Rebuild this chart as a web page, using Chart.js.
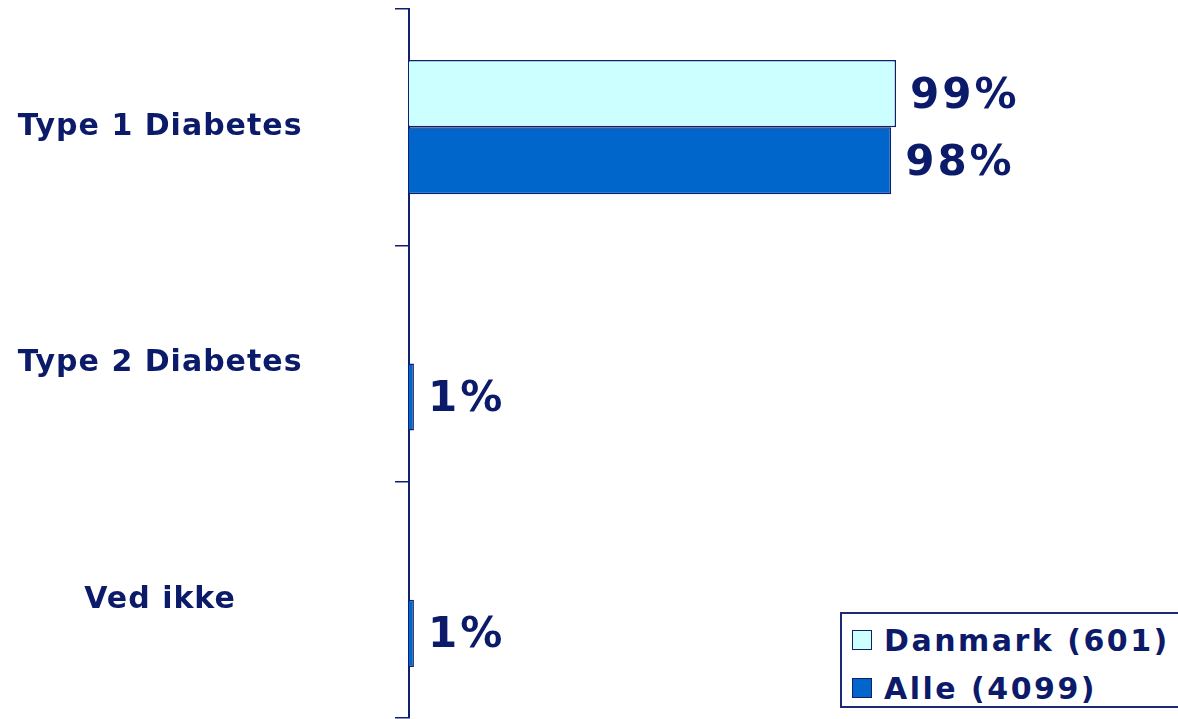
<!DOCTYPE html>
<html>
<head>
<meta charset="utf-8">
<script src="https://cdn.jsdelivr.net/npm/chart.js@4.4.1/dist/chart.umd.min.js"></script>
<style>
  html, body { margin: 0; padding: 0; background: #ffffff; overflow: hidden; }
  #wrap { position: relative; width: 1178px; height: 719px; }
  #legend {
    position: absolute; left: 840px; top: 612px; width: 360px; height: 96px;
    border: 2px solid #1a2a78; box-sizing: border-box; background: #fff;
    font-family: "DejaVu Sans", Verdana, sans-serif; font-weight: bold;
    font-size: 30px; letter-spacing: 2.5px; color: #0c1a6a;
  }
  .item { position: absolute; left: 10px; height: 40px; display: flex; align-items: center; }
  .sw { width: 18px; height: 18px; border: 1.5px solid #10206e; margin-right: 12px; flex: none; }
</style>
</head>
<body>
<div id="wrap">
  <canvas id="c" width="1178" height="719"></canvas>
  <div id="legend"></div>
</div>
<script>
const categories = ["Type 1 Diabetes", "Type 2 Diabetes", "Ved ikke"];
const seriesNames = ["Danmark (601)", "Alle (4099)"];
const danmarkValues = [99, 0, 0];
const alleValues = [98, 1, 1];
const seriesColors = ["#CCFFFF", "#0066CC"];

const navy = "#10206e";
const textColor = "#0c1a6a";

const valueLabels = {
  id: "valueLabels",
  afterDatasetsDraw(chart) {
    const ctx = chart.ctx;
    ctx.save();
    ctx.letterSpacing = "3px";
    ctx.font = "bold 42px 'DejaVu Sans'";
    ctx.fillStyle = textColor;
    ctx.textAlign = "left";
    ctx.textBaseline = "middle";
    chart.data.datasets.forEach((ds, di) => {
      const meta = chart.getDatasetMeta(di);
      meta.data.forEach((bar, i) => {
        const v = ds.data[i];
        if (!v) return;
        ctx.fillText(v + "%", bar.x + 14, bar.y + 3);
      });
    });
    ctx.restore();
  }
};

const tickSpacing = {
  id: "tickSpacing",
  beforeDraw(chart) { chart.ctx.letterSpacing = "1px"; },
  afterDraw(chart) { chart.ctx.letterSpacing = "0px"; }
};

new Chart(document.getElementById("c"), {
  type: "bar",
  data: {
    labels: categories,
    datasets: [
      { label: seriesNames[0], data: danmarkValues, backgroundColor: seriesColors[0],
        borderColor: navy, borderWidth: 1.5, borderSkipped: "start",
        categoryPercentage: 0.568, barPercentage: 1.0 },
      { label: seriesNames[1], data: alleValues, backgroundColor: seriesColors[1],
        borderColor: navy, borderWidth: 1.5, borderSkipped: "start",
        categoryPercentage: 0.568, barPercentage: 1.0 }
    ]
  },
  options: {
    indexAxis: "y",
    responsive: false,
    animation: false,
    devicePixelRatio: 1,
    layout: { padding: { top: 9, right: 31, bottom: 1, left: 0 } },
    plugins: { legend: { display: false }, tooltip: { enabled: false } },
    scales: {
      x: { display: false, min: 0, max: 150 },
      y: {
        afterFit(scale) {
          scale.width = 409;
          scale.paddingTop = 0;
          scale.paddingBottom = 0;
        },
        border: { display: true, color: navy, width: 2 },
        grid: { drawOnChartArea: false, drawTicks: true, tickLength: 14, color: navy, lineWidth: 1.5 },
        ticks: {
          crossAlign: "center", padding: 100, color: textColor,
          font: { family: "'DejaVu Sans'", weight: "bold", size: 30 }
        }
      }
    }
  },
  plugins: [tickSpacing, valueLabels]
});

const legend = document.getElementById("legend");
seriesNames.forEach((name, i) => {
  const it = document.createElement("div");
  it.className = "item";
  it.style.top = (i === 0 ? 6 : 54) + "px";
  const sw = document.createElement("span");
  sw.className = "sw";
  sw.style.background = seriesColors[i];
  const tx = document.createElement("span");
  tx.textContent = name;
  it.appendChild(sw); it.appendChild(tx);
  legend.appendChild(it);
});
</script>
</body>
</html>
